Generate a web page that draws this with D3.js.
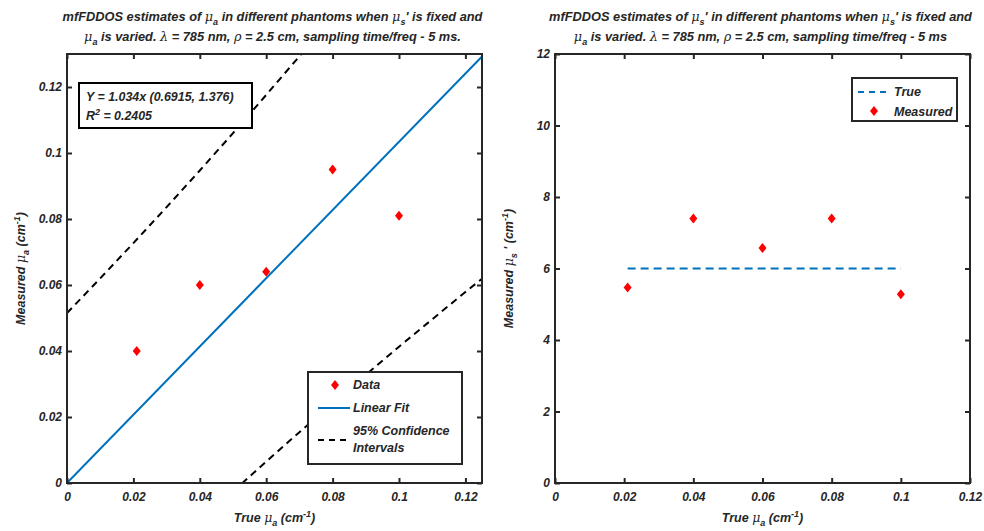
<!DOCTYPE html>
<html>
<head>
<meta charset="utf-8">
<script src="https://cdn.jsdelivr.net/npm/d3@7"></script>
<style>
  body { margin: 0; background: #fff; }
  svg text { font-family: "Liberation Sans", Arial, sans-serif; font-weight: bold; font-style: italic; fill: #262626; }
</style>
</head>
<body>
<svg id="chart" width="984" height="531"></svg>
<script>
// true mu_a of the phantoms
var trueMua = [0.021, 0.04, 0.06, 0.08, 0.1];
// measured mu_a (left panel)
var measuredMua = [0.040, 0.060, 0.064, 0.095, 0.081];
// measured mu_s' (right panel) and the true value
var measuredMus = [5.47, 7.4, 6.57, 7.4, 5.28];
var trueMus = 6;
// linear fit line end points (y = 1.034x)
var fitX = [0, 0.125];
var fitY = [0, 0.12925];
// 95% confidence bounds
var ciUpperX = [0, 0.01, 0.02, 0.03, 0.04, 0.05, 0.06, 0.07, 0.075];
var ciUpperY = [0.0515, 0.0620, 0.0727, 0.0836, 0.0947, 0.1060, 0.1176, 0.1293, 0.1352];
var ciLowerX = [0.05, 0.06, 0.07, 0.08, 0.09, 0.10, 0.11, 0.12, 0.125];
var ciLowerY = [-0.0026, 0.0065, 0.0154, 0.0242, 0.0328, 0.0413, 0.0496, 0.0579, 0.0619];
// ticks
var leftXTicks = [0, 0.02, 0.04, 0.06, 0.08, 0.1, 0.12];
var leftYTicks = [0, 0.02, 0.04, 0.06, 0.08, 0.1, 0.12];
var rightXTicks = [0, 0.02, 0.04, 0.06, 0.08, 0.1, 0.12];
var rightYTicks = [0, 2, 4, 6, 8, 10, 12];

var svg = d3.select("#chart");
var axisColor = "#262626";
var blue = "#0072BD";
var fmt = function(d) { return String(+d.toFixed(3)); };

// writes MATLAB-ish tex text: parts = [{t, sub, sup, sym}]
function rich(textSel, parts) {
  var cur = 0;
  parts.forEach(function(p) {
    var shift = p.sub ? 4 : (p.sup ? -5 : 0);
    var ts = textSel.append("tspan").attr("dy", shift - cur).text(p.t);
    cur = shift;
    if (p.sub || p.sup) ts.attr("font-size", 9);
    if (p.sym) ts.style("font-weight", "normal").style("font-family", "'DejaVu Serif', serif").style("font-style", "italic");
  });
  if (cur !== 0) textSel.append("tspan").attr("dy", -cur).text("");
}

function diamond(g, x, y) {
  g.append("path")
    .attr("d", "M" + x + "," + (y - 5) + "L" + (x + 4) + "," + y + "L" + x + "," + (y + 5) + "L" + (x - 4) + "," + y + "Z")
    .attr("fill", "red");
}

function frame(x, y, xTicks, yTicks, xLab, yLab, title1, title2) {
  var g = svg.append("g");
  var x0 = x.range()[0], x1 = x.range()[1], y0 = y.range()[0], y1 = y.range()[1];

  var xa = g.append("g").attr("transform", "translate(0," + y0 + ")")
    .call(d3.axisBottom(x).tickValues(xTicks).tickFormat(fmt).tickSizeInner(-5).tickSizeOuter(0).tickPadding(9));
  var xt = g.append("g").attr("transform", "translate(0," + y1 + ")")
    .call(d3.axisTop(x).tickValues(xTicks).tickFormat("").tickSizeInner(-5).tickSizeOuter(0));
  var ya = g.append("g").attr("transform", "translate(" + x0 + ",0)")
    .call(d3.axisLeft(y).tickValues(yTicks).tickFormat(fmt).tickSizeInner(-5).tickSizeOuter(0).tickPadding(5));
  var yr = g.append("g").attr("transform", "translate(" + x1 + ",0)")
    .call(d3.axisRight(y).tickValues(yTicks).tickFormat("").tickSizeInner(-5).tickSizeOuter(0));
  [xa, xt, ya, yr].forEach(function(a) {
    a.select(".domain").remove();
    a.selectAll("line").attr("stroke", axisColor).attr("stroke-width", 2);
    a.selectAll("text").attr("font-size", 12).attr("font-family", null).attr("fill", axisColor);
  });

  g.append("rect").attr("x", x0).attr("y", y1).attr("width", x1 - x0).attr("height", y0 - y1)
    .attr("fill", "none").attr("stroke", axisColor).attr("stroke-width", 2);

  var cx = (x0 + x1) / 2;
  rich(g.append("text").attr("x", cx).attr("y", 522).attr("text-anchor", "middle").attr("font-size", 12.5), xLab);
  rich(g.append("text").attr("transform", "translate(" + (x0 - 42) + "," + ((y0 + y1) / 2) + ") rotate(-90)")
    .attr("text-anchor", "middle").attr("font-size", 12.5), yLab);
  rich(g.append("text").attr("x", cx - 2).attr("y", 21).attr("text-anchor", "middle").attr("font-size", 12.8), title1);
  rich(g.append("text").attr("x", cx - 2).attr("y", 41).attr("text-anchor", "middle").attr("font-size", 12.8), title2);
  return g;
}

var mu = "\u03bc";

// ---------- left panel ----------
var xL = d3.scaleLinear().domain([0, 0.125]).range([67, 482]);
var yL = d3.scaleLinear().domain([0, 0.13]).range([483, 54]);

svg.append("clipPath").attr("id", "clipL").append("rect")
  .attr("x", 67).attr("y", 54).attr("width", 415).attr("height", 429);

var gL = svg.append("g");
var line = d3.line().x(function(d) { return xL(d[0]); }).y(function(d) { return yL(d[1]); });
var plotL = gL.append("g").attr("clip-path", "url(#clipL)");
plotL.append("path").datum(d3.zip(ciUpperX, ciUpperY)).attr("d", line)
  .attr("fill", "none").attr("stroke", "#000").attr("stroke-width", 2).attr("stroke-dasharray", "7,5");
plotL.append("path").datum(d3.zip(ciLowerX, ciLowerY)).attr("d", line)
  .attr("fill", "none").attr("stroke", "#000").attr("stroke-width", 2).attr("stroke-dasharray", "7,5");
plotL.append("path").datum(d3.zip(fitX, fitY)).attr("d", line)
  .attr("fill", "none").attr("stroke", blue).attr("stroke-width", 2);
trueMua.forEach(function(v, i) { diamond(plotL, xL(v), yL(measuredMua[i])); });

frame(xL, yL, leftXTicks, leftYTicks,
  [{t: "True "}, {t: mu, sym: true}, {t: "a", sub: true}, {t: " (cm"}, {t: "-1", sup: true}, {t: ")"}],
  [{t: "Measured "}, {t: mu, sym: true}, {t: "a", sub: true}, {t: " (cm"}, {t: "-1", sup: true}, {t: ")"}],
  [{t: "mfFDDOS estimates of "}, {t: mu, sym: true}, {t: "a", sub: true}, {t: " in different phantoms when "},
   {t: mu, sym: true}, {t: "s", sub: true}, {t: "' is fixed and"}],
  [{t: mu, sym: true}, {t: "a", sub: true}, {t: " is varied. "}, {t: "\u03bb", sym: true}, {t: " = 785 nm, "},
   {t: "\u03c1", sym: true}, {t: " = 2.5 cm, sampling time/freq - 5 ms."}]);

// fit equation box
var fb = svg.append("g");
fb.append("rect").attr("x", 79).attr("y", 83).attr("width", 173).attr("height", 45)
  .attr("fill", "#fff").attr("stroke", "#000").attr("stroke-width", 2);
fb.append("text").attr("x", 86).attr("y", 101).attr("font-size", 12.4).text("Y = 1.034x (0.6915, 1.376)");
rich(fb.append("text").attr("x", 86).attr("y", 120).attr("font-size", 12.4),
  [{t: "R"}, {t: "2", sup: true}, {t: " = 0.2405"}]);

// legend left
var lg = svg.append("g");
lg.append("rect").attr("x", 308).attr("y", 372).attr("width", 154).attr("height", 92)
  .attr("fill", "#fff").attr("stroke", axisColor).attr("stroke-width", 2);
diamond(lg, 335, 385);
lg.append("text").attr("x", 353).attr("y", 389).attr("font-size", 12.5).text("Data");
lg.append("line").attr("x1", 318).attr("x2", 350).attr("y1", 408).attr("y2", 408)
  .attr("stroke", blue).attr("stroke-width", 2);
lg.append("text").attr("x", 353).attr("y", 412).attr("font-size", 12.5).text("Linear Fit");
lg.append("line").attr("x1", 318).attr("x2", 350).attr("y1", 440).attr("y2", 440)
  .attr("stroke", "#000").attr("stroke-width", 2).attr("stroke-dasharray", "6,5");
lg.append("text").attr("x", 353).attr("y", 435).attr("font-size", 12.5).text("95% Confidence");
lg.append("text").attr("x", 353).attr("y", 452).attr("font-size", 12.5).text("Intervals");

// ---------- right panel ----------
var xR = d3.scaleLinear().domain([0, 0.12]).range([555, 970]);
var yR = d3.scaleLinear().domain([0, 12]).range([483, 54]);
var gR = svg.append("g");
gR.append("line").attr("x1", xR(d3.min(trueMua))).attr("x2", xR(d3.max(trueMua)))
  .attr("y1", yR(trueMus)).attr("y2", yR(trueMus))
  .attr("stroke", blue).attr("stroke-width", 2).attr("stroke-dasharray", "8,5");
trueMua.forEach(function(v, i) { diamond(gR, xR(v), yR(measuredMus[i])); });

frame(xR, yR, rightXTicks, rightYTicks,
  [{t: "True "}, {t: mu, sym: true}, {t: "a", sub: true}, {t: " (cm"}, {t: "-1", sup: true}, {t: ")"}],
  [{t: "Measured "}, {t: mu, sym: true}, {t: "s", sub: true}, {t: " ' (cm"}, {t: "-1", sup: true}, {t: ")"}],
  [{t: "mfFDDOS estimates of "}, {t: mu, sym: true}, {t: "s", sub: true}, {t: "' in different phantoms when "},
   {t: mu, sym: true}, {t: "s", sub: true}, {t: "' is fixed and"}],
  [{t: mu, sym: true}, {t: "a", sub: true}, {t: " is varied. "}, {t: "\u03bb", sym: true}, {t: " = 785 nm, "},
   {t: "\u03c1", sym: true}, {t: " = 2.5 cm, sampling time/freq - 5 ms"}]);

// legend right
var lr = svg.append("g");
lr.append("rect").attr("x", 852).attr("y", 78).attr("width", 105).attr("height", 43)
  .attr("fill", "#fff").attr("stroke", axisColor).attr("stroke-width", 2);
lr.append("line").attr("x1", 858).attr("x2", 891).attr("y1", 92).attr("y2", 92)
  .attr("stroke", blue).attr("stroke-width", 2).attr("stroke-dasharray", "6,5");
lr.append("text").attr("x", 894).attr("y", 96).attr("font-size", 12.5).text("True");
diamond(lr, 874, 111);
lr.append("text").attr("x", 894).attr("y", 116).attr("font-size", 12.5).text("Measured");
</script>
</body>
</html>
